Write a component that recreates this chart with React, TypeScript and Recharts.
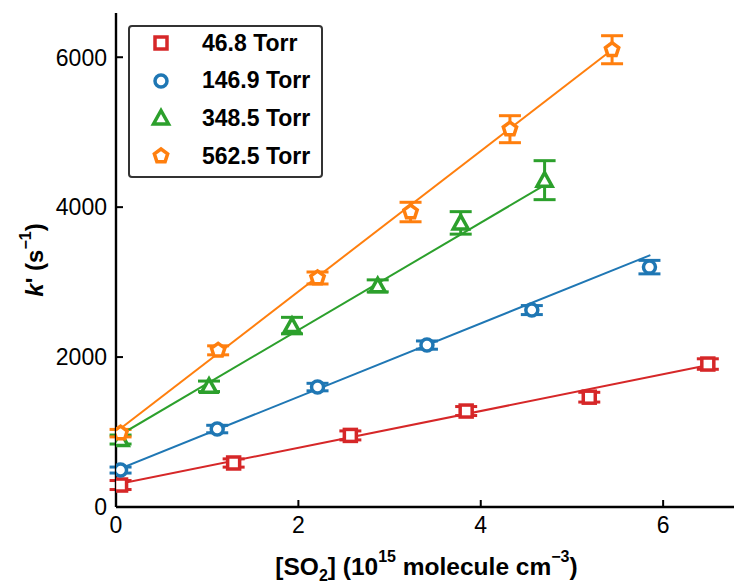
import React from "react";
import {
  ErrorBar,
  Legend,
  Scatter,
  ScatterChart,
  XAxis,
  YAxis,
} from "recharts";

// [SO2] in 1e15 molecule cm^-3, k' in s^-1
const red = [
  { x: 0.05, y: 293, err: 60 },
  { x: 1.29, y: 587, err: 55 },
  { x: 2.57, y: 955, err: 60 },
  { x: 3.84, y: 1280, err: 60 },
  { x: 5.19, y: 1465, err: 65 },
  { x: 6.49, y: 1907, err: 70 },
];
const blue = [
  { x: 0.05, y: 493, err: 40 },
  { x: 1.11, y: 1040, err: 50 },
  { x: 2.21, y: 1600, err: 50 },
  { x: 3.41, y: 2160, err: 55 },
  { x: 4.56, y: 2627, err: 60 },
  { x: 5.85, y: 3200, err: 90 },
];
const green = [
  { x: 0.05, y: 900, err: 60 },
  { x: 1.02, y: 1610, err: 70 },
  { x: 1.93, y: 2420, err: 110 },
  { x: 2.87, y: 2950, err: 80 },
  { x: 3.78, y: 3790, err: 150 },
  { x: 4.7, y: 4360, err: 260 },
];
const orange = [
  { x: 0.05, y: 985, err: 50 },
  { x: 1.12, y: 2090, err: 60 },
  { x: 2.21, y: 3055, err: 80 },
  { x: 3.23, y: 3935, err: 130 },
  { x: 4.32, y: 5040, err: 180 },
  { x: 5.44, y: 6100, err: 187 },
];

// linear fit end points
const redFit = [{ x: 0, y: 300 }, { x: 6.5, y: 1893 }];
const blueFit = [{ x: 0, y: 490 }, { x: 5.86, y: 3360 }];
const greenFit = [{ x: 0, y: 930 }, { x: 4.7, y: 4293 }];
const orangeFit = [{ x: 0, y: 1000 }, { x: 5.44, y: 6100 }];

const xTicks = [0, 2, 4, 6];
const yTicks = [0, 2000, 4000, 6000];

const series = [
  { name: "46.8 Torr", color: "#d62728", marker: "square" },
  { name: "146.9 Torr", color: "#1f77b4", marker: "circle" },
  { name: "348.5 Torr", color: "#2ca02c", marker: "triangle" },
  { name: "562.5 Torr", color: "#ff7f0e", marker: "pentagon" },
];

const FONT = "'Liberation Sans', Arial, Helvetica, sans-serif";

function markerPath(kind: string, cx: number, cy: number, color: string) {
  const common = { stroke: color, strokeWidth: 3.5, fill: "#fff" };
  if (kind === "square") {
    return <rect x={cx - 6} y={cy - 6} width={12} height={12} {...common} />;
  }
  if (kind === "circle") {
    return <circle cx={cx} cy={cy} r={6} {...common} />;
  }
  if (kind === "triangle") {
    const pts = `${cx},${cy - 7.5} ${cx - 7.5},${cy + 6} ${cx + 7.5},${cy + 6}`;
    return <polygon points={pts} {...common} strokeLinejoin="miter" />;
  }
  const pts = [0, 1, 2, 3, 4]
    .map((i) => {
      const a = ((-90 + 72 * i) * Math.PI) / 180;
      return `${cx + 7 * Math.cos(a)},${cy + 7 * Math.sin(a)}`;
    })
    .join(" ");
  return <polygon points={pts} {...common} />;
}

const makeShape = (kind: string, color: string) => (props: any) =>
  markerPath(kind, props.cx, props.cy, color);

const noShape = () => <g />;

const BottomTick = ({ x, y, payload }: any) => (
  <g>
    <line x1={x} x2={x} y1={y} y2={y - 7} stroke="#000" strokeWidth={2} />
    <text x={x} y={y + 26} textAnchor="middle" fontSize={23} fontFamily={FONT} fill="#000">
      {payload.value}
    </text>
  </g>
);

const TopTick = ({ x, y }: any) => (
  <line x1={x} x2={x} y1={y} y2={y + 7} stroke="#000" strokeWidth={2} />
);

const LeftTick = ({ x, y, payload }: any) => (
  <g>
    <line x1={x} x2={x + 7} y1={y} y2={y} stroke="#000" strokeWidth={2} />
    <text x={x - 9} y={y} dy="0.36em" textAnchor="end" fontSize={23} fontFamily={FONT} fill="#000">
      {payload.value}
    </text>
  </g>
);

const RightTick = ({ x, y }: any) => (
  <line x1={x} x2={x - 7} y1={y} y2={y} stroke="#000" strokeWidth={2} />
);

const YLabel = ({ viewBox }: any) => {
  const cy = viewBox.y + viewBox.height / 2;
  const cx = 43;
  return (
    <text
      x={cx}
      y={cy}
      transform={`rotate(-90, ${cx}, ${cy})`}
      textAnchor="middle"
      fontSize={24}
      fontWeight="bold"
      fontFamily={FONT}
      fill="#000"
    >
      <tspan fontStyle="italic">k</tspan>
      <tspan>' (s</tspan>
      <tspan dy={-12} fontSize={16}>−1</tspan>
      <tspan dy={12}>)</tspan>
    </text>
  );
};

const XLabel = ({ viewBox }: any) => {
  const cx = viewBox.x + viewBox.width / 2;
  return (
    <text
      x={cx}
      y={575}
      textAnchor="middle"
      fontSize={24.5}
      fontWeight="bold"
      fontFamily={FONT}
      fill="#000"
    >
      <tspan>[SO</tspan>
      <tspan dy={6} fontSize={16}>2</tspan>
      <tspan dy={-6}>] (10</tspan>
      <tspan dy={-13} fontSize={16}>15</tspan>
      <tspan dy={13}> molecule cm</tspan>
      <tspan dy={-13} fontSize={16}>−3</tspan>
      <tspan dy={13}>)</tspan>
    </text>
  );
};

const LegendBox = () => (
  <div
    style={{
      width: 191,
      height: 149,
      border: "2px solid #333",
      borderRadius: 4,
      background: "#fff",
      boxSizing: "content-box",
      fontFamily: FONT,
      fontWeight: "bold",
      fontSize: 23,
    }}
  >
    {series.map((s, i) => (
      <div
        key={s.name}
        style={{
          position: "absolute",
          left: 0,
          top: 3 + i * 37.7,
          height: 30,
          display: "flex",
          alignItems: "center",
        }}
      >
        <svg width={30} height={30} style={{ marginLeft: 18 }}>
          {markerPath(s.marker, 15, 15, s.color)}
        </svg>
        <span style={{ marginLeft: 26, color: "#000", whiteSpace: "nowrap" }}>{s.name}</span>
      </div>
    ))}
  </div>
);

export default function App() {
  const data = [red, blue, green, orange];
  const fits = [redFit, blueFit, greenFit, orangeFit];
  return (
    <div
      style={{
        position: "absolute",
        left: 0,
        top: 0,
        width: 734,
        height: 584,
        overflow: "hidden",
        background: "#fff",
      }}
    >
      <ScatterChart
        width={737}
        height={584}
        margin={{ top: 13, right: 0, bottom: 47, left: 56 }}
      >
        <XAxis
          xAxisId="b"
          type="number"
          dataKey="x"
          domain={[0, 6.81]}
          ticks={xTicks}
          allowDataOverflow
          height={30}
          tickSize={0}
          tickMargin={0}
          tickLine={false}
          axisLine={{ stroke: "#000", strokeWidth: 2.4 }}
          tick={<BottomTick />}
          label={<XLabel />}
        />
        <XAxis
          xAxisId="t"
          orientation="top"
          type="number"
          dataKey="x"
          domain={[0, 6.81]}
          ticks={xTicks}
          allowDataOverflow
          height={0}
          tickSize={0}
          tickMargin={0}
          tickLine={false}
          axisLine={{ stroke: "#000", strokeWidth: 2.4 }}
          tick={<TopTick />}
        />
        <YAxis
          yAxisId="l"
          type="number"
          dataKey="y"
          domain={[0, 6590]}
          ticks={yTicks}
          allowDataOverflow
          width={60}
          tickSize={0}
          tickMargin={0}
          tickLine={false}
          axisLine={{ stroke: "#000", strokeWidth: 2.4 }}
          tick={<LeftTick />}
          label={<YLabel />}
        />
        <YAxis
          yAxisId="r"
          orientation="right"
          type="number"
          dataKey="y"
          domain={[0, 6590]}
          ticks={yTicks}
          allowDataOverflow
          width={0}
          tickSize={0}
          tickMargin={0}
          tickLine={false}
          axisLine={{ stroke: "#000", strokeWidth: 2.4 }}
          tick={<RightTick />}
        />
        {fits.map((f, i) => (
          <Scatter
            key={"fit" + i}
            xAxisId="b"
            yAxisId="l"
            data={f}
            line={{ stroke: series[i].color, strokeWidth: 2 }}
            shape={noShape}
            legendType="none"
            isAnimationActive={false}
          />
        ))}
        {data.map((d, i) => (
          <Scatter
            key={series[i].name}
            name={series[i].name}
            xAxisId="b"
            yAxisId="l"
            data={d}
            fill={series[i].color}
            shape={makeShape(series[i].marker, series[i].color)}
            isAnimationActive={false}
          >
            <ErrorBar
              dataKey="err"
              direction="y"
              width={11}
              stroke={series[i].color}
              strokeWidth={3}
            />
          </Scatter>
        ))}
        <Legend
          layout="vertical"
          align="center"
          verticalAlign="middle"
          wrapperStyle={{ left: 128, top: 25, width: 195, height: 153, position: "absolute" }}
          content={<LegendBox />}
        />
      </ScatterChart>
    </div>
  );
}
